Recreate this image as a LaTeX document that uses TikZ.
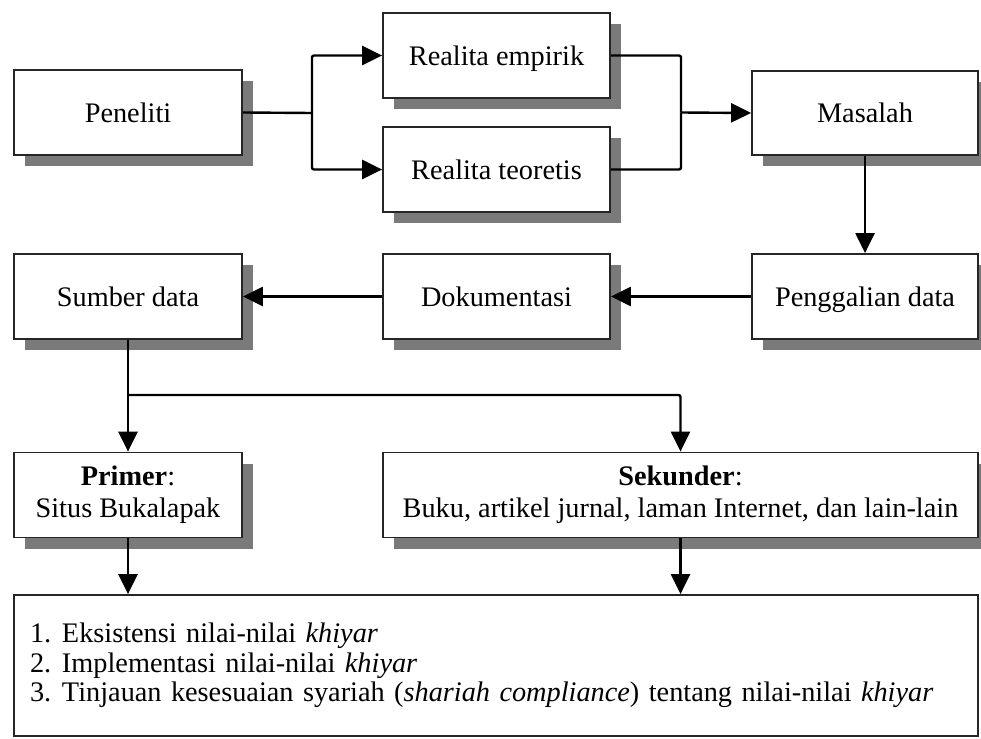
\documentclass[tikz,border=0pt]{standalone}
\usepackage{fontspec}
\setmainfont{Liberation Serif}
\usetikzlibrary{arrows.meta,shadows}
\begin{document}
\begin{tikzpicture}[x=1pt,y=-1pt,
  box/.style={draw=black!85, line width=1.8pt, fill=white, inner sep=0pt,
    minimum height=85pt, align=center,
    font=\fontsize{28.3}{32}\selectfont,
    drop shadow={shadow xshift=11pt, shadow yshift=-11pt, fill=black!52, opacity=1}},
  smallbox/.style={box, minimum width=227pt, text height=20pt, text depth=0pt},
  conn/.style={line width=2.4pt, rounded corners=2pt},
  arr/.style={conn, -{Triangle[length=20pt,width=19pt]}}
]
\useasboundingbox (0,0) rectangle (981,738);

\node[smallbox, minimum width=228pt] (pen) at (128,112.5) {Peneliti};
\node[smallbox] (re) at (496.5,55.5) {Realita empirik};
\node[smallbox] (rt) at (496.5,169.5) {Realita teoretis};
\node[smallbox, minimum width=226pt, minimum height=84pt] (mas) at (865,113) {Masalah};
\node[smallbox, minimum width=226pt] (pg) at (865,296.5) {Penggalian data};
\node[smallbox] (dok) at (496.5,296.5) {Dokumentasi};
\node[smallbox, minimum width=228pt] (sd) at (128,296.5) {Sumber data};
\node[box, minimum width=228pt] (pr) at (128,495) {\textbf{Primer}:\\Situs Bukalapak};
\node[box, minimum width=595pt] (sek) at (680.5,495) {\textbf{Sekunder}:\\Buku, artikel jurnal, laman Internet, dan lain-lain};
\node[draw=black!85, line width=1.8pt, fill=white, minimum width=964pt, minimum height=141pt,
  inner sep=0pt, inner xsep=16pt, text width=932pt, align=left,
  font=\fontsize{28.3}{29.5}\selectfont] (out) at (496,665.5)
  {\makebox[32pt][l]{1.}Eksistensi nilai-nilai \textit{khiyar}\\
   \makebox[32pt][l]{2.}Implementasi nilai-nilai \textit{khiyar}\\
   \makebox[32pt][l]{3.}Tinjauan kesesuaian syariah (\textit{shariah compliance}) tentang nilai-nilai \textit{khiyar}};

\coordinate (j1) at (312,113);
\coordinate (j2) at (681,112.5);
\coordinate (j3) at (128,395);

\draw[conn] (pen.east) -- (j1);
\draw[arr] (j1) |- (re.west);
\draw[arr] (j1) |- (rt.west);
\draw[conn] (re.east) -| (j2);
\draw[conn] (rt.east) -| (j2);
\draw[arr] (j2) -- (mas.west);
\draw[arr] (mas.south) -- (pg.north);
\draw[arr] (pg.west) -- (dok.east);
\draw[arr] (dok.west) -- (sd.east);
\draw[arr] (sd.south) -- (pr.north);
\draw[arr] (j3) -| (sek.north);
\draw[arr] (pr.south) -- (pr.south |- out.north);
\draw[arr] (sek.south) -- (sek.south |- out.north);
\end{tikzpicture}
\end{document}
